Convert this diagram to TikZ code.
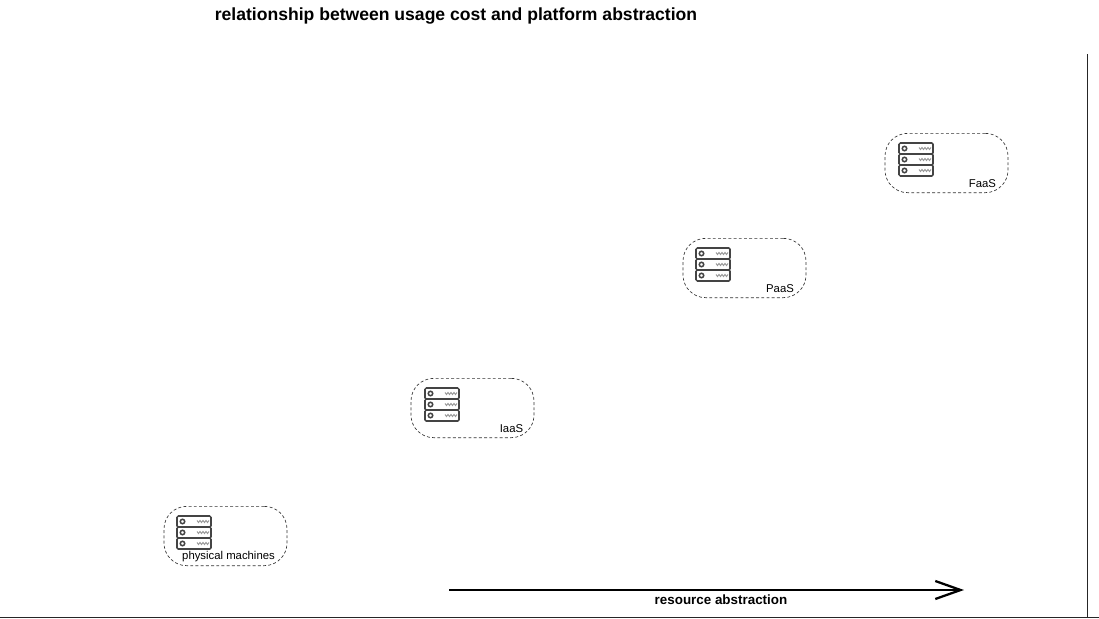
\documentclass[tikz,border=0pt]{standalone}
\usepackage{fontspec}
\setmainfont{Liberation Sans}
\usetikzlibrary{arrows.meta}
\definecolor{ink}{HTML}{333333}
\definecolor{rackink}{HTML}{444444}
\tikzset{
  x=0.75pt,y=-0.75pt,
  groupbox/.style={draw=ink,dash pattern=on 2.2pt off 1.7pt,line width=0.5pt,rounded corners=17pt,minimum width=92.25pt,minimum height=44.5pt,inner sep=0pt},
  grouplabel/.style={font=\fontsize{8.5pt}{10pt}\selectfont,inner sep=0pt,text=black},
  boldlabel/.style={inner sep=0pt,text=black},
  axisline/.style={draw=black!85,line width=0.75pt},
  abstraction/.style={draw=black,line width=1.4pt,-{Straight Barb[length=19pt,width=13.5pt,line width=1.7pt]}},
  rack/.pic={
    \foreach \yy in {0,11,22}{
      \draw[draw=rackink,line width=1.15pt,rounded corners=1pt,fill=white] (0,\yy) rectangle (34,\yy+11);
      \draw[draw=rackink,line width=1.15pt] (5.5,\yy+5.5) circle[radius=2.2];
      \draw[draw=gray!80,line width=0.7pt] (20,\yy+4.5) -- (21.5,\yy+6.5) -- (23,\yy+4.5) -- (24.5,\yy+6.5) -- (26,\yy+4.5) -- (27.5,\yy+6.5) -- (29,\yy+4.5) -- (30.5,\yy+6.5) -- (32,\yy+4.5);
    }
  }
}
\begin{document}
\begin{tikzpicture}
\useasboundingbox (0,0) rectangle (1099,618);
\node[boldlabel,font=\bfseries\fontsize{13.18pt}{16pt}\selectfont] (title) at (456,15.5) {relationship between usage cost and platform abstraction};
\coordinate (hl) at (0,617);
\coordinate (hr) at (1099,617);
\coordinate (vt) at (1087,54);
\coordinate (vb) at (1087,617);
\draw[axisline] (hl) -- (hr);
\draw[axisline] (vt) -- (vb);
\node[groupbox] (pm) at (225.5,536) {};
\node[groupbox] (iaas) at (472.5,408) {};
\node[groupbox] (paas) at (744.5,268) {};
\node[groupbox] (faas) at (946.5,163) {};
\pic at (177,516) {rack};
\pic at (425,388) {rack};
\pic at (696,248) {rack};
\pic at (899,143) {rack};
\node[grouplabel] (pml) at (228.5,557) {physical machines};
\node[grouplabel] (il) at (511.5,429) {IaaS};
\node[grouplabel] (pl) at (780,289) {PaaS};
\node[grouplabel] (fl) at (982.5,184) {FaaS};
\coordinate (as) at (449,590);
\coordinate (ae) at (964,590);
\draw[abstraction] (as) -- (ae);
\node[boldlabel,font=\bfseries\fontsize{10.05pt}{12pt}\selectfont] (al) at (721,600) {resource abstraction};
\end{tikzpicture}
\end{document}
